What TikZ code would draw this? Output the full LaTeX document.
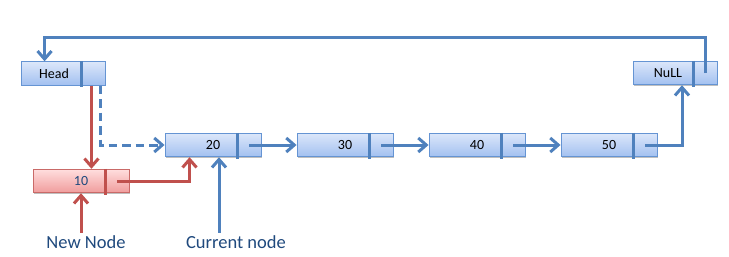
\documentclass[tikz,border=0pt]{standalone}
\usepackage{fontspec}
\setmainfont{Carlito}
\usetikzlibrary{arrows.meta,shadows,calc}
\definecolor{lblue}{HTML}{4F81BD}
\definecolor{lred}{HTML}{C0504D}
\definecolor{bordb}{HTML}{6594D3}
\definecolor{topb}{HTML}{DCE7FA}
\definecolor{botb}{HTML}{A2C0F0}
\definecolor{topr}{HTML}{FFDEDE}
\definecolor{botr}{HTML}{F09C9C}
\definecolor{navy}{HTML}{1F497D}
\tikzset{
  cell/.style={rectangle, draw=bordb, line width=0.9pt, top color=topb, bottom color=botb,
    minimum height=23.5pt, inner sep=0pt, font=\fontsize{14}{16}\selectfont, text=black,
    drop shadow={shadow xshift=1pt, shadow yshift=-1.2pt, opacity=0.25, fill=black}},
  redcell/.style={cell, draw=lred!85, top color=topr, bottom color=botr, text=navy},
  plain/.style={inner sep=0pt, font=\fontsize{14}{16}\selectfont},
  lbl/.style={inner sep=2pt, font=\fontsize{18.5}{21}\selectfont, text=navy, anchor=base},
  divb/.style={draw=lblue, line width=3pt},
  divr/.style={draw=lred, line width=3pt},
  link/.style={draw=lblue, line width=3pt, -{Straight Barb[length=8pt,width=14pt]}},
  rlink/.style={link, draw=lred},
  dlink/.style={link, dash pattern=on 8.5pt off 5pt},
}
\begin{document}
\begin{tikzpicture}[x=1pt,y=-1pt]
\useasboundingbox (0,0) rectangle (729,257);
% boxes
\node[cell, minimum width=84pt] (head) at (63,73.5) {};
\node[plain] (headt) at (54,73.5) {Head};
\node[cell, minimum width=84pt] (null) at (675,73) {};
\node[plain] (nullt) at (668,73) {NuLL};
\node[cell, minimum width=96pt] (n20) at (213,145) {20};
\node[cell, minimum width=96pt] (n30) at (345,145) {30};
\node[cell, minimum width=96pt] (n40) at (477,145) {40};
\node[cell, minimum width=96pt] (n50) at (609,145) {50};
\node[redcell, minimum width=96pt] (n10) at (81,181) {10};
% dividers
\foreach \n in {head,null,n20,n30,n40,n50}{
  \draw[divb] ([xshift=-24pt]\n.north east) -- ([xshift=-24pt,yshift=-1.5pt]\n.south east);
}
\draw[divr] ([xshift=-24pt]n10.north east) -- ([xshift=-24pt,yshift=-1.5pt]n10.south east);
% labels
\node[lbl] (newl) at (86,248) {New Node};
\node[lbl] (curl) at (236,248) {Current node};
% loop back to head
\coordinate (looptop) at (0,37);
\draw[link] ([xshift=-12pt]null.east) -- ([xshift=-12pt]null.east |- looptop) -| ([xshift=24pt]head.north west);
% chain
\draw[link] ([xshift=-12pt]n20.east) -- (n30.west);
\draw[link] ([xshift=-12pt]n30.east) -- (n40.west);
\draw[link] ([xshift=-12pt]n40.east) -- (n50.west);
\draw[link] ([xshift=-12pt]n50.east) -| ([xshift=7pt]null.south);
% dashed old link
\draw[dlink] ([xshift=-5pt]head.south east) |- (n20.west);
% red new links
\draw[rlink] ([xshift=-14pt]head.south east) -- ([xshift=-14pt]head.south east |- n10.north);
\draw[rlink] ([xshift=-12pt]n10.east) -| ([xshift=25pt]n20.south west);
% label arrows
\draw[rlink] (newl.north -| n10.south) -- (n10.south);
\draw[link] ([xshift=6pt]curl.north -| n20.south) -- ([xshift=6pt]n20.south);
\end{tikzpicture}
\end{document}
